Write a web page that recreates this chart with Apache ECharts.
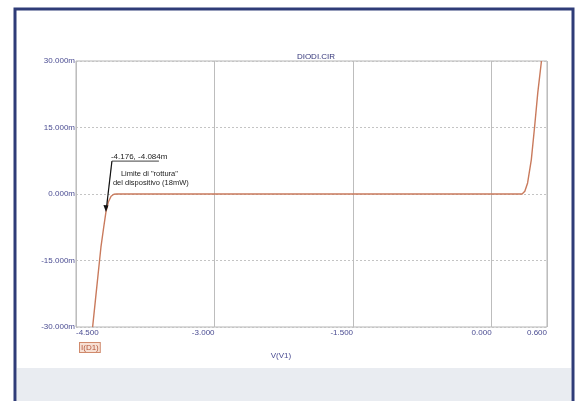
<!DOCTYPE html>
<html>
<head>
<meta charset="utf-8">
<script src="https://cdn.jsdelivr.net/npm/echarts@6/dist/echarts.min.js"></script>
<style>html,body{margin:0;padding:0;background:#fff;}#c{width:578px;height:401px;}</style>
</head>
<body>
<div id="c"></div>
<script>
// Data (voltage in V, current in mA)
const voltage = [-4.32, -4.29, -4.26, -4.23, -4.20, -4.176, -4.15, -4.12, -4.09, -4.06, 0.33, 0.36, 0.39, 0.43, 0.465, 0.50, 0.54];
const current = [-30, -24, -18, -12, -7.5, -4.084, -1.8, -0.5, -0.05, 0, 0, 0.6, 2.5, 7.7, 15, 22.8, 30];
const xTicks = [-4.5, -3.0, -1.5, 0.0, 0.6];
const yTicks = [-30, -15, 0, 15, 30];
const annotPoint = [-4.176, -4.084];
const annotLabel = '-4.176, -4.084m';
const annotText1 = 'Limite di "rottura"';
const annotText2 = 'del dispositivo (18mW)';
const titleText = 'DIODI.CIR';
const seriesName = 'I(D1)';
const xName = 'V(V1)';

const chart = echarts.init(document.getElementById('c'), null, {renderer: 'canvas'});
const labelColor = '#4a4c92';
const font = 'Liberation Sans, Arial, sans-serif';

const option = {
  backgroundColor: '#ffffff',
  animation: false,
  title: {
    text: titleText, left: 311, top: 48, textAlign: 'center',
    textStyle: {fontSize: 8, fontWeight: 'normal', color: '#34367a', fontFamily: font}
  },
  legend: {
    data: [seriesName], left: 70, top: 337, itemWidth: 0, itemHeight: 0, itemGap: 0,
    icon: 'rect',
    textStyle: {fontSize: 8, color: '#b3563a', fontFamily: font, backgroundColor: '#f7e0d4',
      borderColor: '#d08a6c', borderWidth: 1, padding: [1, 1, 0, 1]}
  },
  grid: {left: 76, right: 31, top: 61, bottom: 74, show: true, borderColor: '#b4b4b4', borderWidth: 1},
  xAxis: {
    type: 'value', min: -4.5, max: 0.6, interval: 1.5,
    axisLine: {show: false}, axisTick: {show: false},
    splitLine: {show: true, lineStyle: {color: '#bdbdbd', width: 1}},
    axisLabel: {
      customValues: xTicks, fontSize: 8, color: labelColor, fontFamily: font, margin: 2,
      align: 'right', alignMinLabel: 'left',
      formatter: v => v.toFixed(3)
    }
  },
  yAxis: {
    type: 'value', min: -30, max: 30, interval: 15,
    axisLine: {show: false}, axisTick: {show: false},
    splitLine: {show: true, lineStyle: {color: '#c4c4c4', width: 1, type: [2, 2]}},
    axisLabel: {
      customValues: yTicks, fontSize: 8, color: labelColor, fontFamily: font, margin: 1,
      formatter: v => v.toFixed(3) + 'm'
    }
  },
  series: [{
    name: seriesName, type: 'line', showSymbol: false, smooth: false,
    data: voltage.map((v, i) => [v, current[i]]),
    lineStyle: {color: '#c97a5c', width: 1.4, join: 'round'}, itemStyle: {color: '#c97a5c'}
  }]
};
chart.setOption(option);

const p = chart.convertToPixel({gridIndex: 0}, annotPoint);
const tx = p[0], ty = p[1];
chart.setOption({
  graphic: [
    // outer frame
    {type: 'rect', shape: {x: 15, y: 9, width: 558, height: 400}, style: {fill: 'none', stroke: '#2f3c78', lineWidth: 3}, z: 100},
    {type: 'rect', shape: {x: 17, y: 368, width: 554, height: 40}, style: {fill: '#e9ecf1'}, z: -1, silent: true},
    // annotation
    {type: 'line', shape: {x1: tx + 6, y1: ty - 51, x2: tx + 0.5, y2: ty - 4}, style: {stroke: '#111', lineWidth: 1.2}, z: 50},
    {type: 'polygon', shape: {points: [[tx, ty], [tx - 2.5, ty - 7], [tx + 2.5, ty - 6.5]]}, style: {fill: '#111'}, z: 50},
    {type: 'line', shape: {x1: tx + 6, y1: ty - 51, x2: tx + 53, y2: ty - 51}, style: {stroke: '#111', lineWidth: 0.8}, z: 50},
    {type: 'text', x: tx + 5, y: ty - 55, style: {text: annotLabel, fontSize: 8, fill: '#222', fontFamily: font, verticalAlign: 'middle'}, z: 50},
    {type: 'text', x: tx + 15, y: ty - 38, style: {text: annotText1, fontSize: 7.5, fill: '#222', fontFamily: font, verticalAlign: 'middle'}, z: 50},
    {type: 'text', x: tx + 7, y: ty - 29, style: {text: annotText2, fontSize: 7.5, fill: '#222', fontFamily: font, verticalAlign: 'middle'}, z: 50},
    // x axis name
    {type: 'text', x: 281, y: 356, style: {text: xName, fontSize: 8, fill: labelColor, fontFamily: font, align: 'center', verticalAlign: 'middle'}, z: 50}
  ]
});
</script>
</body>
</html>
